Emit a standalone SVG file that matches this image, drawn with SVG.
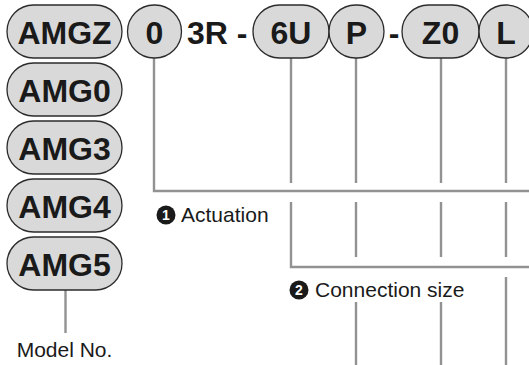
<svg xmlns="http://www.w3.org/2000/svg" width="529" height="365" viewBox="0 0 529 365">
<style>
.pill{fill:#d9d9d9;stroke:#2b2b2b;stroke-width:1.3}
.bt{font-family:"Liberation Sans",Arial,sans-serif;font-weight:bold;font-size:32px;fill:#1a1a1a;text-anchor:middle}
.bl{font-family:"Liberation Sans",Arial,sans-serif;font-weight:bold;font-size:32px;fill:#1a1a1a}
.lbl{font-family:"Liberation Sans",Arial,sans-serif;font-size:21px;fill:#1a1a1a}
.num{font-family:"Liberation Sans",Arial,sans-serif;font-size:14px;font-weight:bold;fill:#fff;text-anchor:middle}
.ln{fill:none;stroke:#929292;stroke-width:2.4}
</style>
<rect width="529" height="365" fill="#fff"/>
<g id="connectors">
<path class="ln" d="M154 58V191H529"/>
<path class="ln" d="M291 58V183M356 58V183M441 58V183M506 58V183"/>
<path class="ln" d="M291 202V267H529"/>
<path class="ln" d="M356 202V257M441 202V257M506 202V257"/>
<path class="ln" d="M506 277V365M356 302V365M441 302V365"/>
<path class="ln" d="M65.5 290V333"/>
</g>
<g id="amgz"><rect class="pill" x="7" y="5" width="115" height="53" rx="26.5"/><text class="bt" x="64.5" y="44">AMGZ</text></g>
<g id="amg0"><rect class="pill" x="7" y="63" width="115" height="53" rx="26.5"/><text class="bt" x="64.5" y="102">AMG0</text></g>
<g id="amg3"><rect class="pill" x="7" y="121" width="115" height="53" rx="26.5"/><text class="bt" x="64.5" y="160">AMG3</text></g>
<g id="amg4"><rect class="pill" x="7" y="179" width="115" height="53" rx="26.5"/><text class="bt" x="64.5" y="218">AMG4</text></g>
<g id="amg5"><rect class="pill" x="7" y="237" width="115" height="53" rx="26.5"/><text class="bt" x="64.5" y="276">AMG5</text></g>
<g id="c0"><rect class="pill" x="127.5" y="5" width="54" height="53" rx="26.5"/><text class="bt" x="154.5" y="44">0</text></g>
<g id="t3r"><text class="bl" x="187" y="44">3R -</text></g>
<g id="c6u"><rect class="pill" x="253" y="5" width="76" height="53" rx="26.5"/><text class="bt" x="291" y="44">6U</text></g>
<g id="cp"><rect class="pill" x="329" y="5" width="55" height="53" rx="26.5"/><text class="bt" x="356.5" y="44">P</text></g>
<g id="dash2"><text class="bt" x="394" y="44">-</text></g>
<g id="cz0"><rect class="pill" x="402" y="5" width="77" height="53" rx="26.5"/><text class="bt" x="440.5" y="44">Z0</text></g>
<g id="cl"><rect class="pill" x="479" y="5" width="54" height="53" rx="26.5"/><text class="bt" x="506" y="44">L</text></g>
<g id="model"><text class="lbl" x="64.5" y="357" text-anchor="middle">Model No.</text></g>
<g id="actuation"><circle cx="166" cy="215" r="9.5" fill="#1a1a1a"/><text class="num" x="166" y="220">1</text><text class="lbl" x="181" y="222">Actuation</text></g>
<g id="connsize"><circle cx="299" cy="290" r="9.5" fill="#1a1a1a"/><text class="num" x="299" y="295">2</text><text class="lbl" x="315" y="297">Connection size</text></g>
</svg>
